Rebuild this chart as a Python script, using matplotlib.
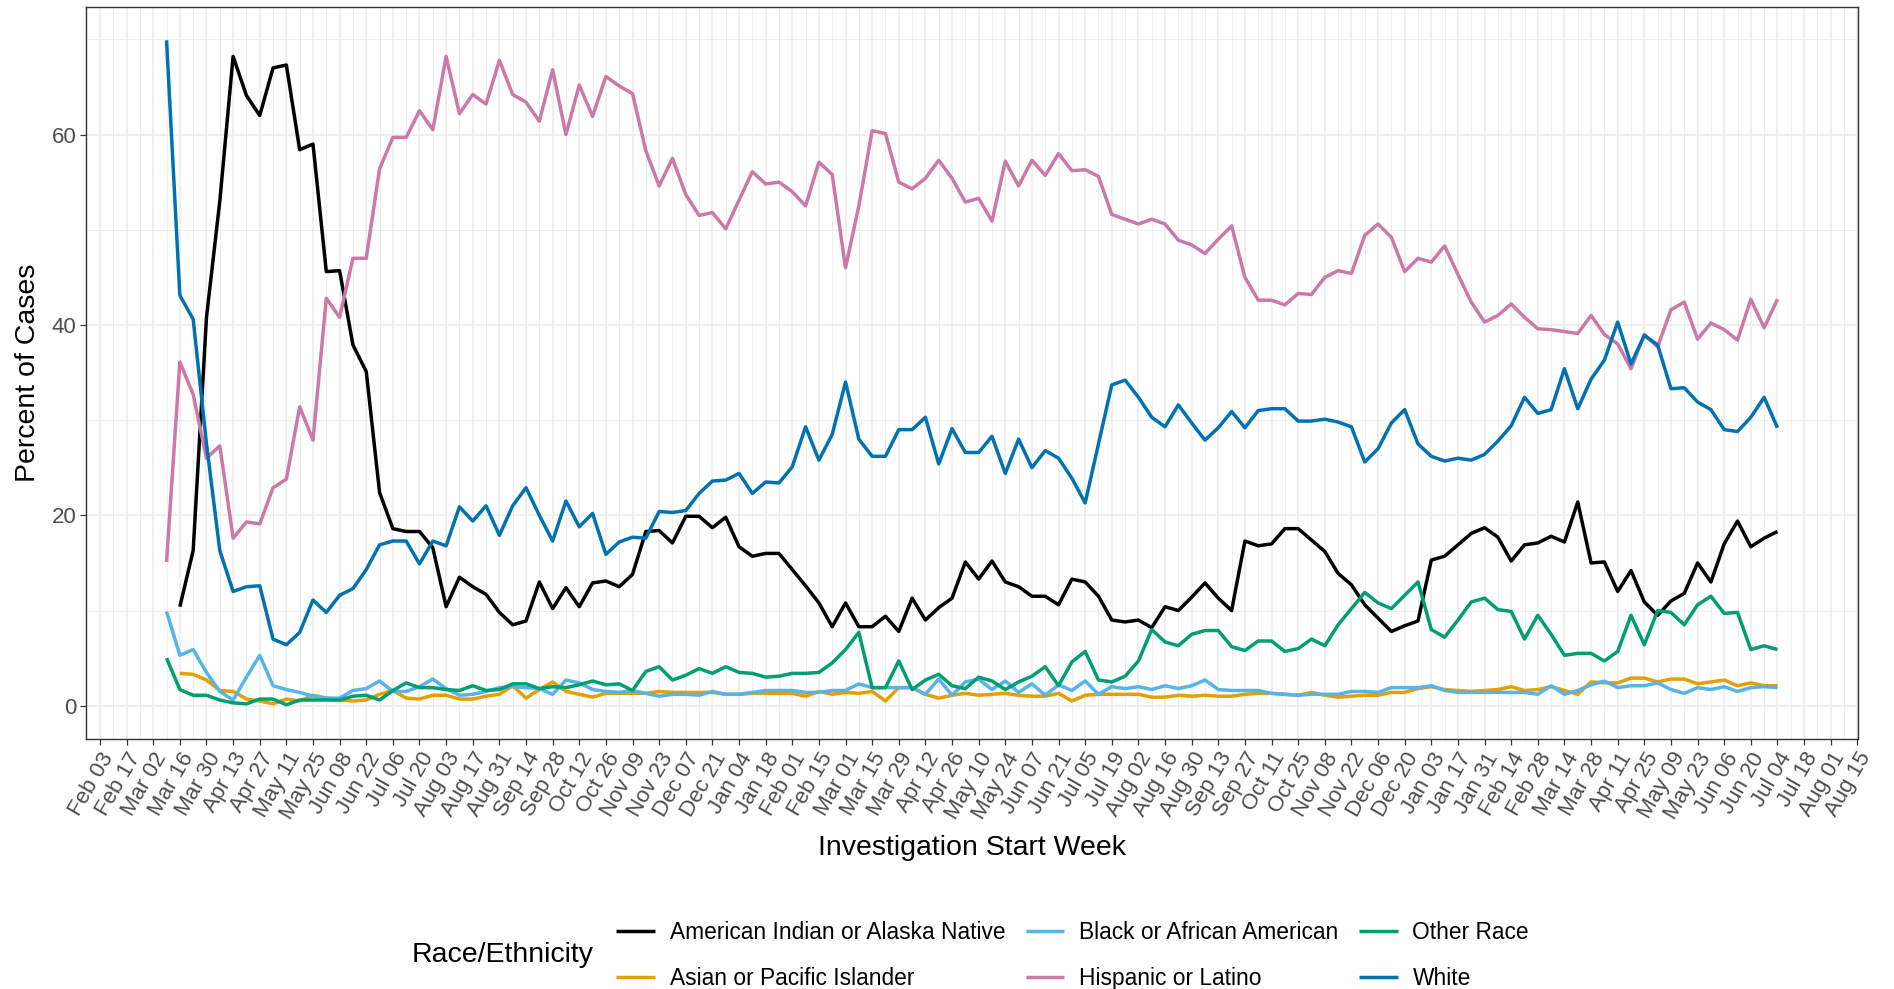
import numpy as np
import pandas as pd
import matplotlib
matplotlib.use("Agg")
import matplotlib.pyplot as plt
import matplotlib.dates as mdates
from matplotlib.ticker import FixedLocator

plt.rcParams['font.family'] = ['Liberation Sans', 'DejaVu Sans']

# weekly investigation start dates
weeks = pd.date_range("2020-03-09", "2022-07-04", freq="7D")
nan = np.nan

aian = [nan, 10.4, 16.3, 40.8, 53.0, 68.2, 64.1, 62.0, 67.0, 67.3, 58.4, 59.0, 45.6, 45.7, 37.9, 35.1,
        22.4, 18.6, 18.3, 18.3, 16.6, 10.4, 13.5, 12.5, 11.7, 9.8, 8.5, 8.9, 13.0, 10.2, 12.4, 10.4,
        12.9, 13.1, 12.5, 13.8, 18.3, 18.4, 17.1, 19.9, 19.9, 18.7, 19.8, 16.7, 15.7, 16.0, 16.0, 14.3,
        12.6, 10.8, 8.3, 10.8, 8.3, 8.3, 9.4, 7.8, 11.3, 9.0, 10.3, 11.3, 15.1, 13.3, 15.2, 13.0,
        12.5, 11.5, 11.5, 10.6, 13.3, 13.0, 11.5, 9.0, 8.8, 9.0, 8.2, 10.4, 10.0, 11.4, 12.9, 11.3,
        10.0, 17.3, 16.8, 17.0, 18.6, 18.6, 17.4, 16.2, 13.9, 12.7, 10.6, 9.2, 7.8, 8.4, 8.9, 15.3,
        15.7, 16.9, 18.1, 18.7, 17.7, 15.2, 16.9, 17.1, 17.8, 17.2, 21.4, 15.0, 15.1, 12.0, 14.2, 10.9,
        9.5, 11.0, 11.8, 15.0, 13.0, 17.0, 19.4, 16.7, 17.6, 18.3]

asian = [nan, 3.4, 3.3, 2.7, 1.6, 1.5, 0.7, 0.5, 0.2, 0.7, 0.5, 1.1, 0.8, 0.6, 0.5, 0.6,
         1.2, 1.6, 0.8, 0.7, 1.1, 1.1, 0.7, 0.7, 1.0, 1.2, 2.1, 0.8, 1.7, 2.5, 1.5, 1.2,
         0.9, 1.3, 1.3, 1.3, 1.3, 1.5, 1.4, 1.4, 1.4, 1.4, 1.2, 1.2, 1.3, 1.3, 1.3, 1.3,
         1.0, 1.5, 1.2, 1.4, 1.3, 1.5, 0.5, 1.9, 1.9, 1.2, 0.8, 1.1, 1.3, 1.1, 1.2, 1.3,
         1.1, 1.0, 1.0, 1.3, 0.5, 1.1, 1.2, 1.2, 1.2, 1.2, 0.9, 0.9, 1.1, 1.0, 1.1, 1.0,
         1.0, 1.2, 1.3, 1.3, 1.2, 1.1, 1.4, 1.1, 0.9, 1.0, 1.1, 1.1, 1.4, 1.4, 1.8, 2.0,
         1.7, 1.6, 1.5, 1.6, 1.7, 2.0, 1.6, 1.7, 2.0, 1.6, 1.2, 2.5, 2.4, 2.4, 2.9, 2.9,
         2.5, 2.8, 2.8, 2.3, 2.5, 2.7, 2.1, 2.4, 2.1, 2.1]

black = [9.9, 5.3, 5.9, 3.5, 1.5, 0.6, 3.0, 5.3, 2.1, 1.7, 1.4, 1.0, 0.8, 0.8, 1.6, 1.8,
         2.6, 1.5, 1.5, 2.0, 2.8, 1.8, 1.1, 1.2, 1.5, 1.9, 2.0, 1.9, 1.8, 1.2, 2.7, 2.4,
         1.7, 1.5, 1.4, 1.6, 1.3, 1.0, 1.2, 1.2, 1.1, 1.5, 1.2, 1.2, 1.4, 1.6, 1.6, 1.6,
         1.4, 1.4, 1.6, 1.6, 2.3, 1.9, 1.9, 1.9, 1.9, 1.2, 2.8, 1.1, 2.5, 2.8, 1.7, 2.6,
         1.4, 2.3, 1.1, 2.2, 1.6, 2.6, 1.2, 2.0, 1.8, 2.0, 1.7, 2.1, 1.8, 2.1, 2.7, 1.7,
         1.6, 1.6, 1.6, 1.3, 1.2, 1.1, 1.2, 1.2, 1.2, 1.5, 1.5, 1.4, 1.9, 1.9, 1.9, 2.1,
         1.6, 1.4, 1.4, 1.4, 1.4, 1.4, 1.4, 1.2, 2.1, 1.2, 1.6, 2.2, 2.6, 1.9, 2.1, 2.1,
         2.4, 1.7, 1.3, 1.9, 1.7, 2.0, 1.5, 1.9, 2.0, 1.9]

hispanic = [15.1, 36.1, 32.7, 26.0, 27.3, 17.6, 19.3, 19.1, 22.9, 23.8, 31.4, 27.9, 42.8, 40.8, 47.0, 47.0,
            56.4, 59.7, 59.7, 62.5, 60.5, 68.2, 62.2, 64.2, 63.2, 67.8, 64.2, 63.4, 61.4, 66.8, 60.0, 65.2,
            61.9, 66.1, 65.1, 64.3, 58.3, 54.6, 57.5, 53.7, 51.5, 51.8, 50.1, 53.1, 56.1, 54.8, 55.0, 54.0,
            52.5, 57.1, 55.8, 46.0, 52.5, 60.4, 60.1, 55.0, 54.3, 55.4, 57.3, 55.4, 52.9, 53.3, 50.9, 57.2,
            54.6, 57.3, 55.7, 58.0, 56.2, 56.3, 55.6, 51.6, 51.1, 50.6, 51.1, 50.6, 48.9, 48.4, 47.5, 49.0,
            50.4, 45.0, 42.6, 42.6, 42.1, 43.3, 43.2, 45.0, 45.7, 45.4, 49.4, 50.6, 49.2, 45.6, 47.0, 46.6,
            48.3, 45.3, 42.4, 40.3, 41.0, 42.2, 40.8, 39.6, 39.5, 39.3, 39.1, 41.0, 39.0, 38.0, 35.4, 39.0,
            37.7, 41.6, 42.4, 38.5, 40.2, 39.5, 38.4, 42.7, 39.7, 42.7]

other = [5.0, 1.7, 1.1, 1.1, 0.6, 0.3, 0.2, 0.7, 0.7, 0.1, 0.6, 0.6, 0.6, 0.6, 1.0, 1.1,
         0.6, 1.6, 2.4, 1.9, 1.9, 1.7, 1.6, 2.1, 1.6, 1.7, 2.3, 2.3, 1.8, 2.0, 1.9, 2.2,
         2.6, 2.2, 2.3, 1.6, 3.6, 4.1, 2.7, 3.2, 3.9, 3.4, 4.1, 3.5, 3.4, 3.0, 3.1, 3.4,
         3.4, 3.5, 4.5, 5.9, 7.7, 1.9, 1.9, 4.7, 1.7, 2.7, 3.3, 2.1, 1.8, 3.0, 2.6, 1.7,
         2.5, 3.1, 4.1, 2.1, 4.6, 5.7, 2.7, 2.5, 3.1, 4.7, 8.0, 6.7, 6.3, 7.5, 7.9, 7.9,
         6.2, 5.8, 6.8, 6.8, 5.7, 6.0, 7.0, 6.3, 8.5, 10.2, 11.9, 10.8, 10.2, 11.6, 13.0, 8.0,
         7.2, 9.0, 10.9, 11.3, 10.1, 9.9, 7.0, 9.5, 7.5, 5.3, 5.5, 5.5, 4.7, 5.7, 9.5, 6.4,
         10.0, 9.8, 8.5, 10.6, 11.5, 9.7, 9.8, 5.9, 6.3, 5.9]

white = [69.9, 43.1, 40.6, 27.5, 16.3, 12.0, 12.5, 12.6, 7.0, 6.4, 7.7, 11.1, 9.8, 11.6, 12.3, 14.3,
         16.9, 17.3, 17.3, 14.9, 17.3, 16.8, 20.9, 19.4, 21.0, 17.9, 21.0, 22.9, 20.0, 17.3, 21.5, 18.8,
         20.2, 15.9, 17.2, 17.7, 17.6, 20.4, 20.3, 20.5, 22.3, 23.6, 23.7, 24.4, 22.3, 23.5, 23.4, 25.1,
         29.3, 25.8, 28.5, 34.0, 28.0, 26.2, 26.2, 29.0, 29.0, 30.3, 25.4, 29.1, 26.6, 26.6, 28.3, 24.4,
         28.0, 25.0, 26.8, 26.0, 23.9, 21.3, 27.5, 33.7, 34.2, 32.4, 30.3, 29.3, 31.6, 29.7, 27.9, 29.2,
         30.9, 29.2, 31.0, 31.2, 31.2, 29.9, 29.9, 30.1, 29.8, 29.3, 25.6, 27.0, 29.7, 31.1, 27.5, 26.2,
         25.7, 26.0, 25.8, 26.4, 27.8, 29.4, 32.4, 30.7, 31.1, 35.4, 31.2, 34.3, 36.3, 40.3, 35.9, 38.9,
         37.9, 33.3, 33.4, 31.9, 31.1, 29.0, 28.8, 30.3, 32.4, 29.2]

groups = ["American Indian or Alaska Native", "Asian or Pacific Islander", "Black or African American",
          "Hispanic or Latino", "Other Race", "White"]
values = [aian, asian, black, hispanic, other, white]
colors = ["#000000", "#E69F00", "#56B4E9", "#CC79A7", "#009E73", "#0072B2"]

W, H = 1894, 989
fig = plt.figure(figsize=(W / 100, H / 100), dpi=100)
ax = fig.add_axes([86 / W, 1 - 739 / H, (1858 - 86) / W, (739 - 7) / H])

lines = []
for name, vals, col in zip(groups, values, colors):
    ln, = ax.plot(weeks, vals, color=col, lw=2.5, label=name,
                  solid_joinstyle='round', solid_capstyle='butt', zorder=3)
    lines.append(ln)

# ggplot-like 5% expansion
pad = (weeks[-1] - weeks[0]) * 0.05
ax.set_xlim(weeks[0] - pad, weeks[-1] + pad)
ax.set_ylim(-0.05 * 69.9, 69.9 * 1.05)

major = pd.date_range("2020-02-03", "2022-08-15", freq="14D")
minor = major[:-1] + pd.Timedelta(days=7)
ax.xaxis.set_major_locator(FixedLocator(mdates.date2num(major)))
ax.xaxis.set_minor_locator(FixedLocator(mdates.date2num(minor)))
ax.xaxis.set_major_formatter(mdates.DateFormatter("%b %d"))
ax.set_yticks([0, 20, 40, 60])
ax.set_yticks([10, 30, 50, 70], minor=True)

ax.grid(which='major', color='#EBEBEB', lw=1.1, zorder=0)
ax.grid(which='minor', color='#EBEBEB', lw=0.6, zorder=0)
ax.set_axisbelow(True)

for s in ax.spines.values():
    s.set_color('#333333')
    s.set_linewidth(1.0)

ax.tick_params(which='major', length=4.5, width=0.9, color='#333333',
               labelsize=16, labelcolor='#4D4D4D', pad=2.5)
ax.tick_params(which='minor', length=0)
for lab in ax.get_xticklabels():
    lab.set_rotation(60)
    lab.set_ha('right')
    lab.set_va('top')
    lab.set_rotation_mode('anchor')

ax.set_xlabel("Investigation Start Week", fontsize=20.5, va='center')
ax.xaxis.set_label_coords(0.5, (739 - 848) / 732)
ax.set_ylabel("Percent of Cases", fontsize=20.5, va='center')
ax.yaxis.set_label_coords((28 - 86) / 1772, 0.5)

fig.text(412 / W, 1 - 955 / H, "Race/Ethnicity", fontsize=20.5, va='center', ha='left')
fig.legend(lines, groups, ncol=3, loc='center left', bbox_to_anchor=(616 / W, 1 - 955.5 / H),
           frameon=False, fontsize=16.4, handlelength=1.7, handletextpad=0.65,
           columnspacing=0.9, labelspacing=1.0, borderpad=0, borderaxespad=0)

fig.savefig("out.png", dpi=100)
